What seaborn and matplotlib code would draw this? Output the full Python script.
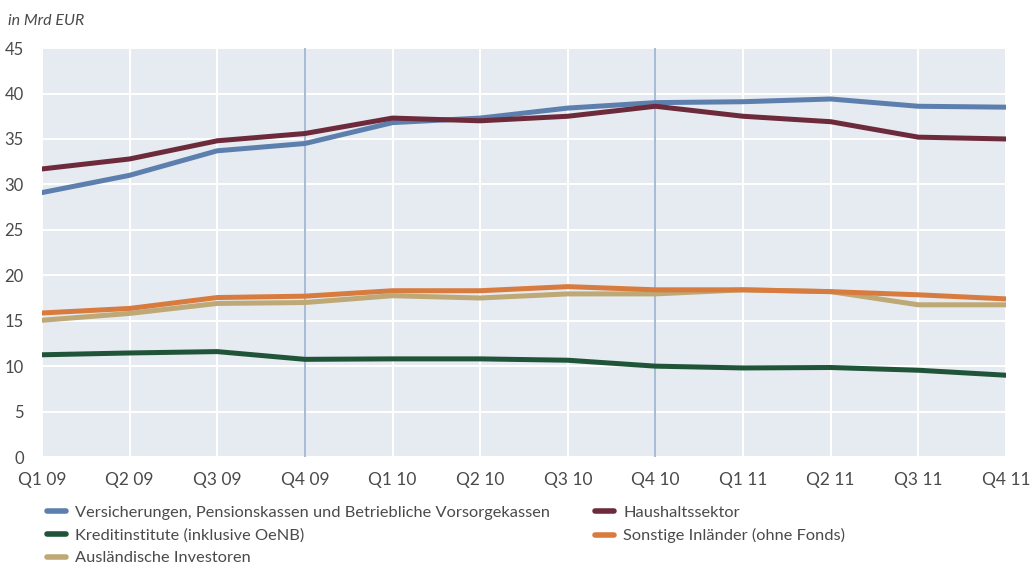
import pandas as pd
import matplotlib.pyplot as plt
import seaborn as sns
from matplotlib.lines import Line2D

# quarters on the x axis
quarters = ["Q1 09", "Q2 09", "Q3 09", "Q4 09", "Q1 10", "Q2 10",
            "Q3 10", "Q4 10", "Q1 11", "Q2 11", "Q3 11", "Q4 11"]

# values in Mrd EUR
versicherungen = [29.1, 31.0, 33.7, 34.5, 36.8, 37.3, 38.4, 39.0, 39.1, 39.4, 38.6, 38.5]
haushalte      = [31.7, 32.8, 34.8, 35.6, 37.3, 37.0, 37.5, 38.6, 37.5, 36.9, 35.2, 35.0]
kreditinst     = [11.25, 11.45, 11.6, 10.75, 10.8, 10.8, 10.65, 10.0, 9.8, 9.85, 9.55, 9.0]
auslaender     = [15.05, 15.8, 16.9, 17.0, 17.75, 17.5, 17.95, 17.95, 18.4, 18.2, 16.75, 16.75]
sonstige       = [15.85, 16.35, 17.55, 17.7, 18.3, 18.3, 18.75, 18.4, 18.4, 18.2, 17.85, 17.4]

series = {
    "Versicherungen, Pensionskassen und Betriebliche Vorsorgekassen": versicherungen,
    "Haushaltssektor": haushalte,
    "Kreditinstitute (inklusive OeNB)": kreditinst,
    "Ausländische Investoren": auslaender,
    "Sonstige Inländer (ohne Fonds)": sonstige,
}
colors = {
    "Versicherungen, Pensionskassen und Betriebliche Vorsorgekassen": "#5d7fae",
    "Haushaltssektor": "#6c2a3b",
    "Kreditinstitute (inklusive OeNB)": "#1f5438",
    "Ausländische Investoren": "#bea875",
    "Sonstige Inländer (ohne Fonds)": "#d87b3f",
}

rows = []
for name, vals in series.items():
    for i, v in enumerate(vals):
        rows.append({"pos": i, "Quartal": quarters[i], "Wert": v, "Reihe": name})
df = pd.DataFrame(rows)

sns.set_theme(style="darkgrid")
plt.rcParams['font.family'] = ['Lato', 'DejaVu Sans']

fig = plt.figure(figsize=(10.31, 5.64), dpi=100)
ax = fig.add_axes([0.0407, 0.1897, 0.935, 0.725])
ax.set_facecolor("#e6eaf1")

sns.lineplot(data=df, x="pos", y="Wert", hue="Reihe", palette=colors,
             linewidth=3.6, legend=False, ax=ax, zorder=3)

# markers for year ends
for q in ["Q4 09", "Q4 10"]:
    ax.axvline(quarters.index(q), color="#8ea7cc", linewidth=1.1, zorder=2)

ax.grid(True, color="white", linewidth=1.4)
ax.set_xlim(0, len(quarters) - 1)
ax.set_ylim(0, 45)
ax.set_yticks(range(0, 46, 5))
ax.set_xticks(range(len(quarters)))
ax.set_xticklabels(quarters)
ax.tick_params(axis="both", labelsize=12, colors="#4a4a4a", length=0)
ax.tick_params(axis="x", pad=11, labelsize=12.5)
ax.tick_params(axis="y", pad=13)
ax.set_xlabel("")
ax.set_ylabel("")
for s in ax.spines.values():
    s.set_visible(False)

fig.text(0.008, 0.963, "in Mrd EUR", fontsize=11.5, style="italic", color="#4a4a4a",
         va="center", ha="left")

order = ["Versicherungen, Pensionskassen und Betriebliche Vorsorgekassen",
         "Kreditinstitute (inklusive OeNB)",
         "Ausländische Investoren",
         "Haushaltssektor",
         "Sonstige Inländer (ohne Fonds)"]
handles = [Line2D([0], [0], color=colors[n], linewidth=4) for n in order]
fig.legend(handles, order, loc="upper left", bbox_to_anchor=(0.034, 0.124), ncol=2,
           frameon=False, fontsize=11.8, handlelength=1.16, handletextpad=0.6,
           columnspacing=2.7, labelspacing=0.5, labelcolor="#4a4a4a",
           borderpad=0.2)

fig.savefig("out.png", dpi=100)
